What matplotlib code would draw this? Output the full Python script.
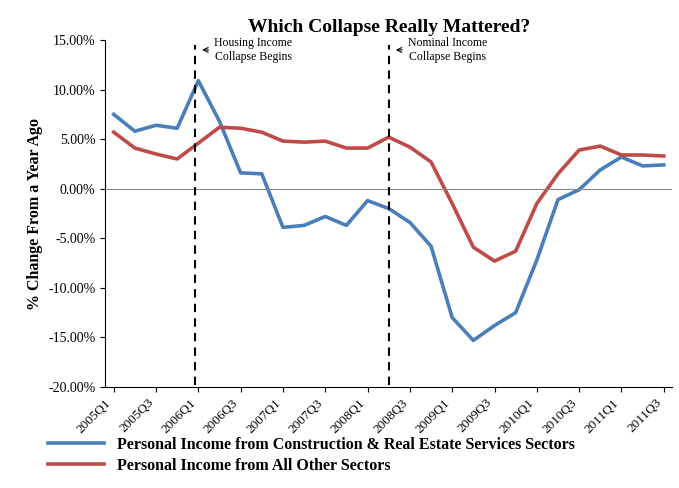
import numpy as np
import matplotlib
matplotlib.use('Agg')
import matplotlib.pyplot as plt
from matplotlib.ticker import FuncFormatter

quarters = [f"{y}Q{q}" for y in range(2005, 2012) for q in range(1, 5)][:27]
construction = [7.5, 5.8, 6.4, 6.1, 10.9, 6.8, 1.6, 1.5, -3.9, -3.7, -2.8, -3.7, -1.2, -2.0,
                -3.4, -5.8, -13.0, -15.3, -13.8, -12.5, -7.2, -1.1, -0.1, 1.9, 3.2, 2.3, 2.4]
other = [5.7, 4.1, 3.5, 3.0, 4.6, 6.2, 6.1, 5.7, 4.8, 4.7, 4.8, 4.1, 4.1, 5.2,
         4.2, 2.7, -1.5, -5.9, -7.3, -6.3, -1.5, 1.5, 3.9, 4.3, 3.4, 3.4, 3.3]
# marker positions (in quarter index units) and labels
events = [(3.85, "Housing Income\nCollapse Begins"), (13.0, "Nominal Income\nCollapse Begins")]

plt.rcParams['font.family'] = ['Liberation Serif', 'DejaVu Serif']

fig = plt.figure(figsize=(6.79, 4.88), dpi=100)
ax = fig.add_axes([0.155, 0.207, 0.835, 0.711])
x = np.arange(len(quarters))
ax.plot(x, construction, color='#4a7ebb', lw=2.6,
        label='Personal Income from Construction & Real Estate Services Sectors')
ax.plot(x, other, color='#be4b48', lw=2.6, label='Personal Income from All Other Sectors')
ax.axhline(0, color='#888888', lw=0.8)

for xpos, txt in events:
    ax.plot([xpos, xpos], [-19.8, 14.5], color='black', ls=(0, (4, 3)), lw=1.5)
    ax.annotate(txt, xy=(xpos + 0.2, 14.0), xytext=(xpos + 0.9, 14.0), fontsize=8.5,
                ha='left', va='center', multialignment='center',
                arrowprops=dict(arrowstyle='->', color='black', lw=0.8))

ax.set_xlim(-0.4, len(quarters) - 0.6)
ax.set_ylim(-20, 15)
ax.set_yticks(np.arange(-20, 16, 5))
ax.yaxis.set_major_formatter(FuncFormatter(lambda v, p: f"{v:.2f}%"))
ax.set_xticks(x[::2])
ax.set_xticklabels(quarters[::2], rotation=45, ha='right', fontsize=9.5)
ax.tick_params(axis='y', labelsize=10)
ax.set_ylabel('% Change From a Year Ago', fontsize=11.5, fontweight='bold')
ax.set_title('Which Collapse Really Mattered?', fontsize=14, fontweight='bold')
for s in ['top', 'right']:
    ax.spines[s].set_visible(False)

fig.legend(loc='lower left', bbox_to_anchor=(0.05, 0.0), frameon=False,
           prop={'size': 11.5, 'weight': 'bold'}, handlelength=3.5, labelspacing=0.3)
fig.savefig('out.png', dpi=100)
